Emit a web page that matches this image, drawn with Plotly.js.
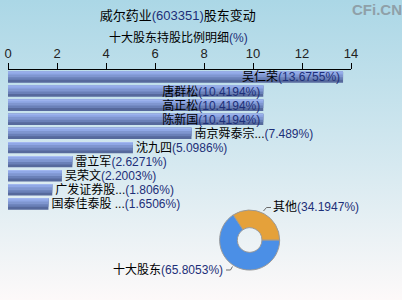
<!DOCTYPE html>
<html><head><meta charset="utf-8">
<script src="https://cdn.plot.ly/plotly-3.0.1.min.js"></script>
<style>
html,body{margin:0;padding:0;}
body{width:402px;height:300px;background:linear-gradient(to bottom,#abd7e6 0%,#d6e9f0 55%,#fdf9f9 100%);}
#chart{width:402px;height:300px;}
</style></head><body><div id="chart"></div>
<script>
var holders = ["吴仁荣","唐群松","高正松","陈新国","南京舜泰宗...","沈九四","雷立军","吴荣文","广发证券股...","国泰佳泰股 ..."];
var holderPct = [13.6755,10.4194,10.4194,10.4194,7.489,5.0986,2.6271,2.2003,1.806,1.6506];
var holderPctText = ["13.6755","10.4194","10.4194","10.4194","7.489","5.0986","2.6271","2.2003","1.806","1.6506"];
var pieLabels = ["十大股东","其他"];
var pieValues = [65.8053,34.1947];
var pieText = ["65.8053","34.1947"];
var xTicks = [0,2,4,6,8,10,12,14];

var NAVY = "#1d2f78";
var FONT = "'Liberation Sans Narrow','Liberation Sans','Noto Sans CJK SC',sans-serif";
function lab(name, v){ return name + '<span style="color:'+NAVY+'">(' + v + '%)</span>'; }

// pixel -> paper helpers (plot area: x 8..351, y 70..275)
function px(x){ return (x-8)/343; }
function py(y){ return (275-y)/205; }

var bandW = [0.8, 0.6, 0.42, 0.22, 0.06];
var bandC = ["#56699c", "#6a80b8", "#7f96d0", "#90a8e6", "#a8bcf4"];
var traces = [];
bandW.forEach(function(w,i){
  traces.push({type:"bar", orientation:"h", x:holderPct, y:holders, width:w, offset:-0.4,
    marker:{color:bandC[i], line:{width:0}}, hoverinfo:"skip", showlegend:false,
    xaxis:"x", yaxis:"y"});
});
var pos = holderPct.map(function(v){ return v > 9 ? "inside" : "outside"; });
traces.push({type:"bar", orientation:"h", x:holderPct, y:holders, width:0.8, offset:-0.4,
  marker:{color:"rgba(0,0,0,0)"}, text: holders.map(function(h,i){return lab(h, holderPctText[i]);}),
  textposition: pos, insidetextanchor:"end", constraintext:"none", textangle:0, cliponaxis:false,
  textfont:{family:FONT, size:12, color:"#000"}, hoverinfo:"skip", showlegend:false});

traces.push({type:"pie", labels:pieLabels, values:pieValues, sort:false, direction:"clockwise",
  rotation:90, hole:0.41, marker:{colors:["#4b8fe6","#e5a13a"], line:{color:"#9a9a9a", width:1}},
  textinfo:"none",
  domain:{x:[0.617,0.792], y:[0.024,0.317]}, showlegend:false, hoverinfo:"skip"});

var layout = {
  width:402, height:300, margin:{l:8, r:51, t:70, b:25},
  paper_bgcolor:"rgba(0,0,0,0)", plot_bgcolor:"rgba(0,0,0,0)",
  barmode:"overlay", showlegend:false,
  font:{family:FONT, size:12, color:"#000"},
  title:{text:'威尔药业<span style="color:'+NAVY+'">(603351)</span>股东变动', x:0.495, xref:"paper", xanchor:"center", y:0.95, yanchor:"middle", yref:"container",
    font:{family:FONT, size:13, color:"#000"}},
  xaxis:{side:"top", range:[0,14], tickvals:xTicks, ticktext:xTicks.map(String), showgrid:false, zeroline:false,
    showline:true, linecolor:"#000", linewidth:1, ticks:"outside", ticklen:6, tickcolor:"#000",
    tickfont:{family:FONT, size:13, color:"#222"}, fixedrange:true},
  yaxis:{domain:[0.312,1], autorange:"reversed", showticklabels:false, showgrid:false, zeroline:false, showline:false, ticks:""},
  annotations:[
    {text:'十大股东持股比例明细<span style="color:'+NAVY+'">(%)</span>', xref:"paper", yref:"paper", x:px(178.5), y:py(37), xanchor:"center", yanchor:"middle", showarrow:false, font:{family:FONT, size:12, color:"#000"}},
    {text:"<b>CFi.CN</b>", xref:"paper", yref:"paper", x:px(377), y:py(10), xanchor:"center", yanchor:"middle", showarrow:false, font:{family:"'Liberation Sans',Arial,sans-serif", size:15, color:"#8fa0a8"}},
    {text:lab(pieLabels[1], pieText[1]), xref:"paper", yref:"paper", x:px(271), y:py(207.5), xanchor:"left", yanchor:"middle", showarrow:false, xshift:0, font:{family:FONT, size:12, color:"#000"}},
    {text:lab(pieLabels[0], pieText[0]), xref:"paper", yref:"paper", x:px(225), y:py(269.5), xanchor:"right", yanchor:"middle", showarrow:false, font:{family:FONT, size:12, color:"#000"}}
  ],
  shapes:[
    {type:"path", xref:"paper", yref:"paper", path:"M "+px(263.5)+" "+py(211)+" L "+px(266.5)+" "+py(207.5)+" L "+px(271)+" "+py(207.5), line:{color:"#6a6a6a", width:1}},
    {type:"path", xref:"paper", yref:"paper", path:"M "+px(226)+" "+py(270)+" L "+px(230.5)+" "+py(270)+" L "+px(232.5)+" "+py(266.5), line:{color:"#6a6a6a", width:1}}
  ]
};
Plotly.newPlot("chart", traces, layout, {staticPlot:true, displayModeBar:false});
</script></body></html>
